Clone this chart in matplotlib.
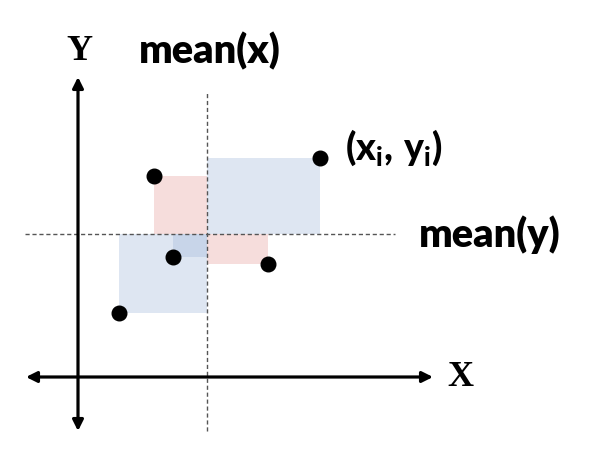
import matplotlib
matplotlib.use('Agg')
import matplotlib.pyplot as plt
import numpy as np

matplotlib.rcParams['mathtext.fontset'] = 'custom'
matplotlib.rcParams['mathtext.rm'] = 'Lato:black'
matplotlib.rcParams['mathtext.bf'] = 'Lato:black'
matplotlib.rcParams['mathtext.it'] = 'Lato:black'

# sample points (x_i, y_i)
xs = [3.8, 12.1, 4.73, 9.48, 2.07]
ys = [10.05, 10.97, 5.98, 5.65, 3.2]

axis_labels = ['X', 'Y']
mean_labels = ['mean(x)', 'mean(y)']
point_label = r'$(x_i,\,y_i)$'

blue = '#9cb4d8'
red = '#e59a97'

W, H = 6.09, 4.66
fig = plt.figure(figsize=(W, H), dpi=100)
ax = fig.add_axes([0, 0, 1, 1])
ax.set_xlim(-3.9, 26.55)
ax.set_ylim(-4.45, 18.85)
ax.axis('off')

mx = np.mean(xs)
my = np.mean(ys)

# covariance rectangles
for x, y in zip(xs, ys):
    prod = (x - mx) * (y - my)
    c = blue if prod > 0 else red
    ax.add_patch(plt.Rectangle((min(x, mx), min(y, my)), abs(x - mx), abs(y - my),
                               facecolor=c, edgecolor='none', alpha=0.33, zorder=1))

# mean lines
ax.plot([mx, mx], [-2.7, 14.2], color='#555555', lw=1.0, ls=(0, (3, 2)), zorder=2)
ax.plot([-2.65, 15.85], [my, my], color='#555555', lw=1.0, ls=(0, (3, 2)), zorder=2)

# axes arrows
arr = dict(arrowstyle='<|-|>', lw=2.3, color='black', mutation_scale=16,
           shrinkA=0, shrinkB=0)
ax.annotate('', xy=(17.75, 0), xytext=(-2.6, 0), arrowprops=arr, zorder=3)
ax.annotate('', xy=(0, 15.0), xytext=(0, -2.7), arrowprops=arr, zorder=3)

ax.plot(xs, ys, 'o', color='black', ms=10.5, zorder=4)

# labels
ax.text(18.45, 0.0, axis_labels[0], family='Liberation Serif', weight='bold',
        fontsize=26, ha='left', va='center')
ax.text(0.05, 16.3, axis_labels[1], family='Liberation Serif', weight='bold',
        fontsize=26, ha='center', va='center')
ax.text(mx + 0.15, 15.7, mean_labels[0], family='Lato', weight='heavy',
        fontsize=28.5, ha='center', va='baseline')
ax.text(17.05, 6.5, mean_labels[1], family='Lato', weight='heavy',
        fontsize=28.5, ha='left', va='baseline')
ax.text(13.35, 10.85, point_label, fontsize=27, ha='left', va='baseline')

fig.savefig('out.png', dpi=100)
